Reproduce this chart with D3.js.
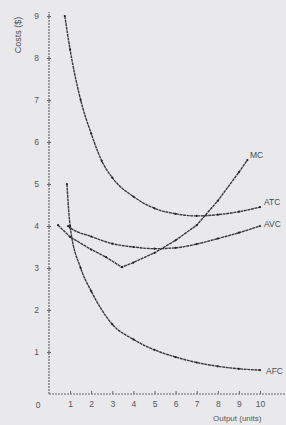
<!DOCTYPE html>
<html><head><meta charset="utf-8">
<script src="https://cdn.jsdelivr.net/npm/d3@7"></script>
<style>html,body{margin:0;padding:0;background:#e9e9ec;overflow:hidden}</style>
</head><body>
<svg id="c" width="286" height="425"></svg>
<script>
const xTicks = [1,2,3,4,5,6,7,8,9,10];
const yTicks = [1,2,3,4,5,6,7,8,9];
const atcX = [0.75,1,1.5,2,2.5,3,4,5,6,7,8,9,10];
const atcY = [9.0,8.2,7.0,6.2,5.55,5.15,4.7,4.42,4.29,4.24,4.27,4.34,4.45];
const avcX = [0.9,1,2,3,4,5,6,7,8,9,10];
const avcY = [4.0,3.96,3.75,3.58,3.5,3.46,3.48,3.57,3.7,3.84,4.0];
const mcX = [0.43,1,2,2.7,3.45,4,5,6,7,8,9,9.4];
const mcY = [4.02,3.74,3.44,3.26,3.02,3.13,3.36,3.66,4.02,4.6,5.28,5.57];
const afcX = [0.85,1,1.5,2,3,4,5,6,7,8,9,10];
const afcY = [5.0,4.0,3.0,2.45,1.66,1.3,1.05,0.88,0.75,0.66,0.6,0.57];
const seriesNames = ["ATC","AVC","MC","AFC"];

const svg = d3.select("#c");
const x = d3.scaleLinear().domain([0,10]).range([49,260]);
const y = d3.scaleLinear().domain([0,9]).range([394,16]);
const ink = "#3a3a3e";

// axes
const xAxis = svg.append("g").attr("transform","translate(0,394)")
  .call(d3.axisBottom(x).tickValues(xTicks).tickSize(-3).tickPadding(7).tickFormat(d3.format("d")));
const yAxis = svg.append("g").attr("transform","translate(49,0)")
  .call(d3.axisLeft(y).tickValues(yTicks).tickSize(3).tickPadding(7).tickFormat(d3.format("d")));
[xAxis,yAxis].forEach(g=>{
  g.select(".domain").attr("stroke","#66666c").attr("stroke-width",1.2).attr("stroke-dasharray","2,1");
  g.selectAll(".tick line").attr("stroke","#66666c");
  g.selectAll(".tick text").attr("fill","#55555a").attr("font-family","Liberation Sans, Arial, sans-serif").attr("font-size",8.5);
});
yAxis.selectAll(".tick line").attr("x1",-2).attr("x2",2);
xAxis.select(".domain").attr("d","M49,0H286");
yAxis.select(".domain").attr("d","M0,394V12");
svg.append("text").attr("x",38).attr("y",408).attr("text-anchor","middle")
  .attr("font-family","Liberation Sans, Arial, sans-serif").attr("font-size",8.5).attr("fill","#55555a").text("0");

// curves
const data = [
  {name:"ATC", xs:atcX, ys:atcY, curve:d3.curveMonotoneX},
  {name:"AVC", xs:avcX, ys:avcY, curve:d3.curveMonotoneX},
  {name:"MC",  xs:mcX,  ys:mcY,  curve:d3.curveLinear},
  {name:"AFC", xs:afcX, ys:afcY, curve:d3.curveMonotoneX}
];
data.forEach(s=>{
  const pts = s.xs.map((v,i)=>[v,s.ys[i]]);
  const line = d3.line().x(d=>x(d[0])).y(d=>y(d[1])).curve(s.curve);
  svg.append("path").attr("d",line(pts)).attr("fill","none")
    .attr("stroke",ink).attr("stroke-width",1.4).attr("stroke-dasharray","3,0.6");
  svg.selectAll(null).data(pts).enter().append("circle")
    .attr("cx",d=>x(d[0])).attr("cy",d=>y(d[1])).attr("r",1.1).attr("fill","#222");
});

// series labels
const lab = (t,px,py)=>svg.append("text").attr("x",px).attr("y",py)
  .attr("font-family","Liberation Sans, Arial, sans-serif").attr("font-size",8.5).attr("fill","#4a4a50").text(t);
lab(seriesNames[2], 250, 158);
lab(seriesNames[0], 264, 205);
lab(seriesNames[1], 264, 227);
lab(seriesNames[3], 266, 374);

// axis titles
svg.append("text").attr("transform","translate(21,35) rotate(-90)").attr("text-anchor","middle")
  .attr("font-family","Liberation Sans, Arial, sans-serif").attr("font-size",9).attr("fill","#4a4a50").text("Costs ($)");
svg.append("text").attr("x",213).attr("y",421)
  .attr("font-family","Liberation Sans, Arial, sans-serif").attr("font-size",8).attr("fill","#55555a").text("Output (units)");
</script>
</body></html>
